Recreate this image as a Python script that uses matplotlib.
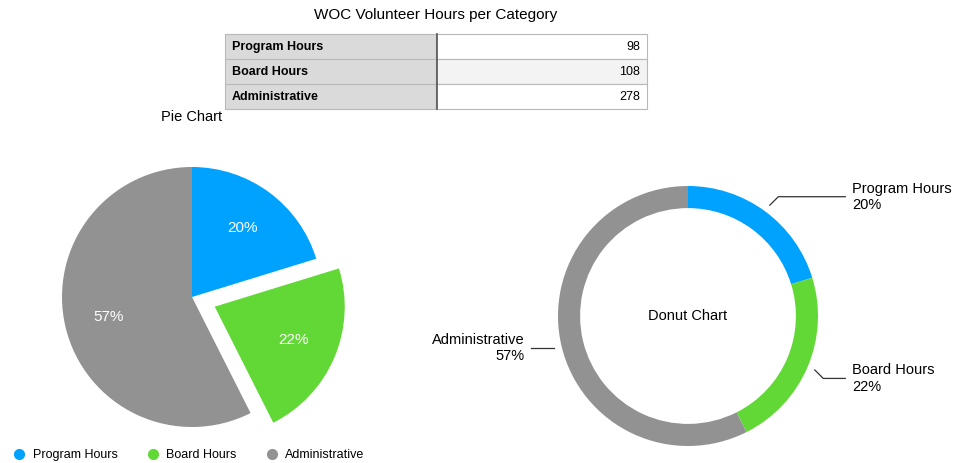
import numpy as np
import matplotlib
matplotlib.use("Agg")
import matplotlib.pyplot as plt
from matplotlib.lines import Line2D

plt.rcParams['font.family'] = ['Liberation Sans', 'DejaVu Sans']

# data
categories = ["Program Hours", "Board Hours", "Administrative"]
hours = [98, 108, 278]
colors = ["#00a2ff", "#61d836", "#929292"]
explode = [0, 0.19, 0]

W, H = 956, 463
fig = plt.figure(figsize=(W / 100, H / 100), dpi=100)


def px_axes(cx, cy, half):
    # axes centred on pixel (cx, cy)
    ax = fig.add_axes([(cx - half) / W, (H - cy - half) / H, 2 * half / W, 2 * half / H])
    ax.axis("off")
    return ax


def set_scale(ax, half, r=130.0):
    # 1 data unit = r pixels (pie() resets the limits, so call after it)
    ax.set_xlim(-half / r, half / r)
    ax.set_ylim(-half / r, half / r)


# ---- pie chart
ax1 = px_axes(192, 297, 200)
wedges, _, autotexts = ax1.pie(hours, colors=colors, explode=explode, startangle=90,
                               counterclock=False, autopct="%1.0f%%", pctdistance=0.66,
                               wedgeprops=dict(linewidth=0),
                               textprops=dict(color="white", fontsize=11))
set_scale(ax1, 200)
fig.text(192 / W, 1 - 117 / H, "Pie Chart", ha="center", va="center", fontsize=10.5)

# ---- donut chart
ax2 = px_axes(688, 316, 200)
dw, _ = ax2.pie(hours, colors=colors, startangle=90, counterclock=False,
                wedgeprops=dict(width=0.17, linewidth=0))
set_scale(ax2, 200)
ax2.text(0, 0, "Donut Chart", ha="center", va="center", fontsize=10.5)

total = sum(hours)
for w, name, v in zip(dw, categories, hours):
    ang = np.deg2rad((w.theta1 + w.theta2) / 2)
    x0, y0 = 1.06 * np.cos(ang), 1.06 * np.sin(ang)
    side = 1 if x0 > 0 else -1
    lbl = f"{name}\n{round(100 * v / total)}%"
    if abs(y0) > 0.4:
        x1, y1 = x0 + 0.065 * side, y0 + 0.065 * np.sign(y0)
    else:
        x1, y1 = x0, y0
    ax2.plot([x0, x1, 1.21 * side], [y0, y1, y1], color="#333333", lw=0.9, clip_on=False)
    ax2.text(1.26 * side, y1, lbl, ha="left" if side > 0 else "right", va="center",
             fontsize=10.5, multialignment="left" if side > 0 else "right")

# ---- table
axt = fig.add_axes([0, 0, 1, 1])
axt.axis("off")
cell_text = [[c, str(v)] for c, v in zip(categories, hours)]
tbl = axt.table(cellText=cell_text, bbox=[225 / W, (H - 109) / H, 422 / W, 75 / H],
                cellLoc="left")
tbl.auto_set_font_size(False)
for (r, c), cell in tbl.get_celld().items():
    cell.set_edgecolor("#b8b8b8")
    cell.set_linewidth(0.8)
    cell.PAD = 0.033
    cell.get_text().set_fontsize(9)
    if c == 0:
        cell.set_facecolor("#dadada")
        cell.get_text().set_fontweight("bold")
    else:
        cell.set_facecolor("#f3f3f3" if r == 1 else "white")
        cell.get_text().set_ha("right")
        cell._loc = "right"
axt.plot([437 / W, 437 / W], [(H - 109) / H, (H - 34) / H], color="#555555", lw=1.2)
axt.set_xlim(0, 1)
axt.set_ylim(0, 1)
fig.text(436 / W, 1 - 15 / H, "WOC Volunteer Hours per Category", ha="center", va="center",
         fontsize=11)

# ---- legend
handles = [Line2D([], [], marker="o", ls="", color=c, markersize=7) for c in colors]
fig.legend(handles, categories, loc="center left", bbox_to_anchor=(0.002, 1 - 455 / H),
           ncol=3, frameon=False, fontsize=9, handletextpad=0.55, columnspacing=2.35,
           handlelength=1.0)

fig.savefig("out.png", dpi=100)
